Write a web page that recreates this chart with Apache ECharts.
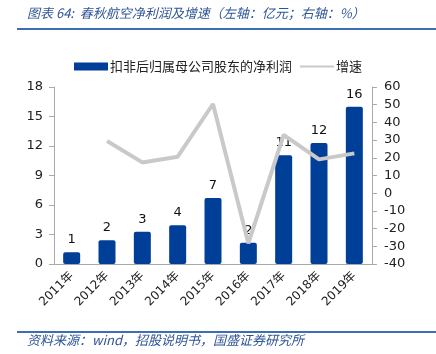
<!DOCTYPE html>
<html lang="zh">
<head>
<meta charset="UTF-8">
<script src="https://cdn.jsdelivr.net/npm/echarts@6/dist/echarts.min.js"></script>
<style>
  html, body { margin: 0; padding: 0; background: #fff; }
  #main { width: 436px; height: 354px; }
</style>
</head>
<body>
<div id="main"></div>
<script>
  // 数据
  var years = ['2011年', '2012年', '2013年', '2014年', '2015年', '2016年', '2017年', '2018年', '2019年']
  var profit = [1.19, 2.41, 3.29, 3.93, 6.71, 2.17, 11.05, 12.3, 16.0]
  var growth = [null, 29.5, 17.4, 20.6, 50.4, -28.3, 32.9, 19.1, 22.5]

  var blue = '#003f97'
  var grey = '#c9c9c9'
  var font = '"Noto Sans CJK SC", sans-serif'
  var numFont = '"DejaVu Sans", "Noto Sans CJK SC", sans-serif'
  var clear = 'rgba(0,0,0,0)'

  var chart = echarts.init(document.getElementById('main'))

  var option = {
    animation: false,
    textStyle: { fontFamily: font },
    grid: { left: 54, right: 64, top: 87, bottom: 90 },
    legend: {
      left: 69, top: 55,
      itemGap: 7,
      itemWidth: 34,
      itemHeight: 8,
      textStyle: { fontSize: 13, color: '#222', padding: [0, 0, 0, -3] },
      data: [
        { name: '扣非后归属母公司股东的净利润', icon: 'rect' },
        { name: '增速', itemStyle: { color: clear, borderColor: clear, borderWidth: 0 } }
      ]
    },
    xAxis: {
      type: 'category',
      data: years,
      axisLine: { lineStyle: { color: '#aaa' } },
      axisTick: { lineStyle: { color: '#aaa' } },
      axisLabel: { rotate: 45, color: '#222', fontSize: 12, margin: 10, interval: 0, fontFamily: numFont }
    },
    yAxis: [
      {
        type: 'value', min: 0, max: 18, interval: 3,
        splitLine: { show: false },
        axisLine: { show: true, lineStyle: { color: '#aaa' } },
        axisTick: { show: true, lineStyle: { color: '#aaa' } },
        axisLabel: { color: '#222', fontSize: 13, margin: 11, fontFamily: numFont }
      },
      {
        type: 'value', min: -40, max: 60, interval: 10,
        splitLine: { show: false },
        axisLine: { show: true, lineStyle: { color: '#aaa' } },
        axisTick: { show: true, lineStyle: { color: '#aaa' } },
        axisLabel: { color: '#222', fontSize: 13, margin: 12, fontFamily: numFont }
      }
    ],
    series: [
      {
        name: '扣非后归属母公司股东的净利润',
        type: 'bar',
        data: profit,
        barWidth: 17,
        itemStyle: { color: blue, borderRadius: 2 },
        label: {
          show: true, position: 'top', color: '#111', fontSize: 13, distance: 6,
          fontFamily: numFont,
          formatter: p => Math.round(p.value)
        }
      },
      {
        name: '增速',
        type: 'line',
        yAxisIndex: 1,
        data: growth,
        symbol: 'none',
        lineStyle: { color: grey, width: 4 },
        itemStyle: { color: clear, borderColor: clear, borderWidth: 0 },
        z: 3
      }
    ],
    graphic: [
      {
        type: 'text', left: 27, top: 7,
        style: {
          text: '图表 64:  春秋航空净利润及增速（左轴：亿元；右轴：%）',
          fill: '#2f5597', fontSize: 13, fontStyle: 'italic', fontFamily: font
        }
      },
      {
        type: 'rect', shape: { x: 17, y: 28, width: 419, height: 2 },
        style: { fill: '#3f6db3' }
      },
      {
        type: 'rect', shape: { x: 17, y: 331, width: 419, height: 2 },
        style: { fill: '#3f6db3' }
      },
      {
        type: 'text', left: 27, top: 334,
        style: {
          text: '资料来源：wind，招股说明书，国盛证券研究所',
          fill: '#2f5597', fontSize: 13, fontStyle: 'italic', fontFamily: font
        }
      }
    ]
  }

  chart.setOption(option)
</script>
</body>
</html>
